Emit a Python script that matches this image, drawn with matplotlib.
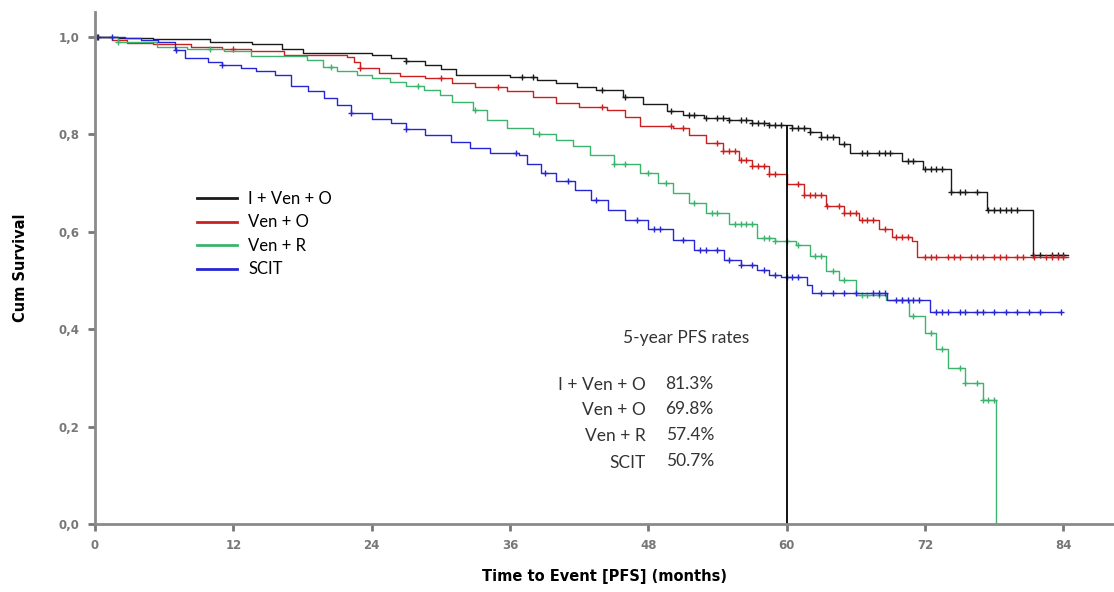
import numpy as np
import matplotlib
matplotlib.use("Agg")
import matplotlib.pyplot as plt

# step curves (months, cumulative survival)
ivo_t = [0, 2, 5, 10, 13.6, 16.2, 18, 24, 25.7, 27, 28.6, 30, 31.3, 36, 38.3, 40, 41.8, 43.5, 45.8, 47.5,
         49.6, 51, 52.8, 55, 57, 58.5, 60.5, 62, 63, 64.5, 65.5, 70, 71.8, 74.3, 77.4, 81.4, 84.4]
ivo_s = [1.0, 0.997, 0.995, 0.99, 0.985, 0.975, 0.966, 0.962, 0.957, 0.95, 0.942, 0.935, 0.922, 0.917, 0.912,
         0.905, 0.898, 0.89, 0.877, 0.862, 0.847, 0.84, 0.834, 0.829, 0.824, 0.819, 0.813, 0.805, 0.795, 0.78,
         0.762, 0.745, 0.729, 0.682, 0.645, 0.552, 0.552]

vo_t = [0, 1.5, 2.8, 5, 8.3, 11, 13.5, 16.4, 21.9, 22.5, 23, 24.6, 26.5, 28.6, 31, 33, 35.7, 38, 40, 42, 44.4,
        46, 47.3, 50.1, 51.5, 53, 54.5, 55.9, 57, 58.5, 60, 61.5, 63.4, 65, 66.3, 68, 69.1, 70.9, 71.3, 84.4]
vo_s = [1.0, 0.993, 0.988, 0.985, 0.98, 0.975, 0.97, 0.963, 0.958, 0.948, 0.936, 0.925, 0.92, 0.916, 0.905,
        0.898, 0.888, 0.876, 0.864, 0.857, 0.85, 0.835, 0.816, 0.813, 0.798, 0.782, 0.765, 0.747, 0.735, 0.718,
        0.698, 0.675, 0.652, 0.638, 0.624, 0.605, 0.59, 0.58, 0.549, 0.549]

vr_t = [0, 2, 5.4, 8, 11.2, 13.5, 18.4, 19.8, 21, 22.7, 24, 25.6, 27, 28.5, 29.9, 31, 32.8, 34, 35.7, 38, 40,
        41.5, 42.9, 45, 47.3, 48.8, 50.1, 51.5, 53, 55, 57.4, 59, 60.8, 62, 63.4, 64.5, 66, 68.6, 70.6, 72, 73,
        74, 75.5, 77, 78.2]
vr_s = [1.0, 0.99, 0.98, 0.975, 0.971, 0.96, 0.953, 0.939, 0.93, 0.922, 0.915, 0.908, 0.9, 0.891, 0.881, 0.867,
        0.85, 0.83, 0.813, 0.8, 0.789, 0.775, 0.758, 0.74, 0.72, 0.70, 0.679, 0.658, 0.638, 0.615, 0.587, 0.58,
        0.573, 0.55, 0.52, 0.5, 0.47, 0.46, 0.426, 0.392, 0.36, 0.32, 0.29, 0.255, 0.0]

scit_t = [0, 2.6, 4, 5.5, 6.9, 7.8, 9.8, 11, 12.7, 14, 15.6, 17, 18.5, 19.9, 21, 22.2, 24, 25.7, 27, 28.6, 30.9,
          32.5, 34.3, 36.8, 37.5, 38.7, 40, 41.6, 43, 44.5, 46, 48, 50.1, 52, 54.6, 56, 57.4, 58.5, 59.5, 61.8,
          62.2, 68.7, 72.4, 83.8]
scit_s = [1.0, 0.997, 0.993, 0.99, 0.973, 0.956, 0.949, 0.943, 0.936, 0.93, 0.922, 0.90, 0.888, 0.874, 0.86,
          0.843, 0.832, 0.823, 0.81, 0.798, 0.785, 0.772, 0.761, 0.758, 0.74, 0.72, 0.705, 0.686, 0.665, 0.645,
          0.624, 0.605, 0.583, 0.562, 0.542, 0.532, 0.522, 0.512, 0.507, 0.49, 0.474, 0.46, 0.436, 0.436]

# censoring marks (months)
ivo_c = [0.3, 27, 37, 38, 44, 46, 50, 51.5, 52, 53, 54, 54.5, 55, 56, 56.5, 57, 57.5, 58, 58.5, 59, 59.5, 60.5,
         61, 61.5, 62, 63, 63.5, 64, 65, 66.5, 67, 68, 68.5, 69, 70.5, 71, 72, 72.5, 73, 73.5, 74.3, 75, 75.5,
         76.5, 77.5, 78, 78.5, 79, 79.5, 80, 81.4, 82, 83, 83.5, 84]
vo_c = [12, 23, 30, 35, 44, 50, 51, 54, 54.5, 55, 55.5, 56, 56.5, 57, 57.5, 58, 58.5, 59, 61, 61.5, 62, 62.5, 63,
        63.5, 64.5, 65, 65.5, 66, 66.5, 67, 67.5, 68.5, 69.5, 70, 70.5, 72, 72.5, 73, 74, 74.5, 75, 76, 76.5, 77,
        78, 78.5, 79, 80, 80.5, 81.5, 82.5, 83, 83.5, 84]
vr_c = [2, 10, 20.5, 28, 33, 38.5, 45, 46, 48, 49.5, 52, 53.5, 54, 55.5, 56, 56.5, 57, 58, 58.5, 59, 60, 61, 62.5,
        63, 64, 65, 66.5, 67, 68, 70, 71, 72.5, 73.5, 75, 75.5, 76.5, 77, 77.5, 78]
scit_c = [0.2, 1.5, 7, 11, 22.2, 27, 36.5, 39, 41, 43.5, 47, 48.5, 49, 51, 52.5, 53, 54, 55, 56, 57, 58, 59, 60,
          60.5, 61, 63, 64, 65, 66, 67.5, 68, 68.5, 69.5, 70, 70.5, 71, 71.5, 73, 73.5, 74, 75, 75.5, 76.5, 77,
          78, 79, 80, 81, 82, 83.8]

groups = ['I + Ven + O', 'Ven + O', 'Ven + R', 'SCIT']
colors = ['#1a1a1a', '#cc1f1f', '#3cb46e', '#2626d4']
rates = ['81.3%', '69.8%', '57.4%', '50.7%']

curves = [(ivo_t, ivo_s, ivo_c), (vo_t, vo_s, vo_c), (vr_t, vr_s, vr_c), (scit_t, scit_s, scit_c)]


def step_value(t, s, x):
    idx = np.searchsorted(t, x, side='right') - 1
    return np.asarray(s)[np.clip(idx, 0, len(s) - 1)]


fig = plt.figure(figsize=(11.14, 5.92), dpi=100)
ax = fig.add_axes([0.0853, 0.1149, 0.9147, 0.8648])

for (t, s, c), name, col in zip(curves, groups, colors):
    ax.plot(t, s, drawstyle='steps-post', color=col, lw=1.0, label=name)
    ax.plot(c, step_value(t, s, np.array(c)), ls='none', marker='+', ms=5, mew=1.0, color=col)

# 5-year reference line
ax.vlines(60, 0, step_value(ivo_t, ivo_s, 60), color='black', lw=1.3)

ax.set_xlim(0, 88.4)
ax.set_ylim(0, 1.051)
ax.set_xticks([0, 12, 24, 36, 48, 60, 72, 84])
ax.set_yticks([0, 0.2, 0.4, 0.6, 0.8, 1.0])
ax.set_yticklabels(['0,0', '0,2', '0,4', '0,6', '0,8', '1,0'])

for side in ['top', 'right']:
    ax.spines[side].set_visible(False)
for side in ['left', 'bottom']:
    ax.spines[side].set_color('#8a8a8a')
    ax.spines[side].set_linewidth(2)
ax.tick_params(colors='#777777', width=2, length=5, labelsize=8.5, pad=6)
for lab in ax.get_xticklabels() + ax.get_yticklabels():
    lab.set_fontweight('bold')
    lab.set_family('DejaVu Sans')

ax.set_xlabel('Time to Event [PFS] (months)', fontsize=10.5, fontweight='bold', labelpad=12)
ax.set_ylabel('Cum Survival', fontsize=10.5, fontweight='bold', labelpad=22)

leg = ax.legend(loc='upper left', bbox_to_anchor=(0.085, 0.68), frameon=False,
                prop={'family': 'Lato', 'size': 12}, handlelength=2.4, handletextpad=0.7,
                labelspacing=0.45)
for h in leg.get_lines():
    h.set_linewidth(2)

ax.text(51.3, 0.382, '5-year PFS rates', ha='center', va='center', family='Lato', fontsize=12.5,
        color='#333333')
ys = [0.285, 0.233, 0.18, 0.126]
for name, rate, y in zip(groups, rates, ys):
    ax.text(47.8, y, name, ha='right', va='center', family='Lato', fontsize=12.5, color='#333333')
    ax.text(49.5, y + 0.003, rate, ha='left', va='center', family='Lato', fontsize=12.5, color='#333333')

fig.savefig('out.png', dpi=100)
